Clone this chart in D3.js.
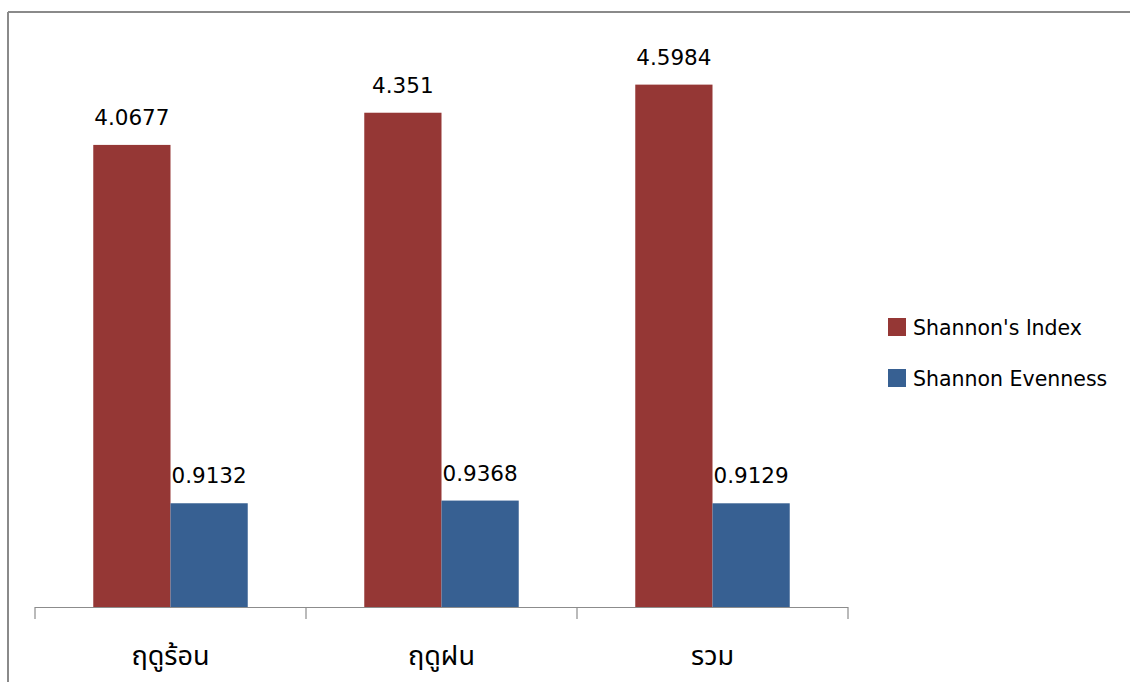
<!DOCTYPE html>
<html>
<head>
<meta charset="utf-8">
<script src="https://cdn.jsdelivr.net/npm/d3@7"></script>
<style>
  html, body { margin: 0; padding: 0; background: #fff; }
  svg { display: block; }
  text { font-family: "DejaVu Sans", "Noto Sans", "Noto Sans Thai", "Loma", "Garuda", sans-serif; fill: #000; }
</style>
</head>
<body>
<svg id="chart" width="1130" height="682"></svg>
<script>
const categories = ["ฤดูร้อน", "ฤดูฝน", "รวม"];
const seriesNames = ["Shannon's lndex", "Shannon Evenness"];
const shannonIndex = [4.0677, 4.351, 4.5984];
const shannonEvenness = [0.9132, 0.9368, 0.9129];
const valueLabels = [["4.0677", "4.351", "4.5984"], ["0.9132", "0.9368", "0.9129"]];
const seriesColors = ["#953735", "#376092"];

const seriesValues = [shannonIndex, shannonEvenness];

const svg = d3.select("#chart");

// chart frame
svg.append("line").attr("x1", 8).attr("x2", 1130).attr("y1", 12).attr("y2", 12)
  .attr("stroke", "#8a8a8a").attr("stroke-width", 2);
svg.append("line").attr("x1", 8).attr("x2", 8).attr("y1", 12).attr("y2", 682)
  .attr("stroke", "#8a8a8a").attr("stroke-width", 2);

const x0 = d3.scaleBand().domain(categories).range([35, 848]).padding(0);
const bw = x0.bandwidth();
const barW = bw * 0.285;
const x1 = d3.scaleBand().domain(seriesNames)
  .range([(bw - 2 * barW) / 2, (bw + 2 * barW) / 2]).padding(0);
const y = d3.scaleLinear().domain([0, 5]).range([607, 39]);

const data = [];
categories.forEach((c, i) => {
  seriesNames.forEach((s, j) => {
    data.push({ cat: c, series: s, value: seriesValues[j][i], label: valueLabels[j][i], color: seriesColors[j] });
  });
});

svg.append("g").selectAll("rect").data(data).join("rect")
  .attr("x", d => x0(d.cat) + x1(d.series))
  .attr("width", x1.bandwidth())
  .attr("y", d => y(d.value))
  .attr("height", d => y(0) - y(d.value))
  .attr("fill", d => d.color);

svg.append("g").selectAll("text").data(data).join("text")
  .attr("x", d => x0(d.cat) + x1(d.series) + x1.bandwidth() / 2)
  .attr("y", d => y(d.value) - 20)
  .attr("text-anchor", "middle")
  .attr("font-size", 21.5)
  .text(d => d.label);

// category axis
const axisG = svg.append("g");
const [r0, r1] = x0.range();
axisG.append("line").attr("x1", r0).attr("x2", r1).attr("y1", y(0) + 0.5).attr("y2", y(0) + 0.5)
  .attr("stroke", "#8c8c8c").attr("stroke-width", 1.2);
const tickPos = categories.map(c => x0(c)).concat([r1]);
axisG.selectAll("line.tick").data(tickPos).join("line").attr("class", "tick")
  .attr("x1", d => d).attr("x2", d => d).attr("y1", y(0)).attr("y2", y(0) + 12)
  .attr("stroke", "#8c8c8c").attr("stroke-width", 1.2);
axisG.selectAll("text").data(categories).join("text")
  .attr("x", d => x0(d) + bw / 2)
  .attr("y", 665)
  .attr("text-anchor", "middle")
  .attr("font-size", 27)
  .text(d => d);

// legend
const legend = svg.append("g");
seriesNames.forEach((s, j) => {
  const ly = 318 + j * 51;
  legend.append("rect").attr("x", 888).attr("y", ly).attr("width", 18).attr("height", 18)
    .attr("fill", seriesColors[j]);
  legend.append("text").attr("x", 913).attr("y", ly + 17).attr("font-size", 20.5).text(s);
});
</script>
</body>
</html>
